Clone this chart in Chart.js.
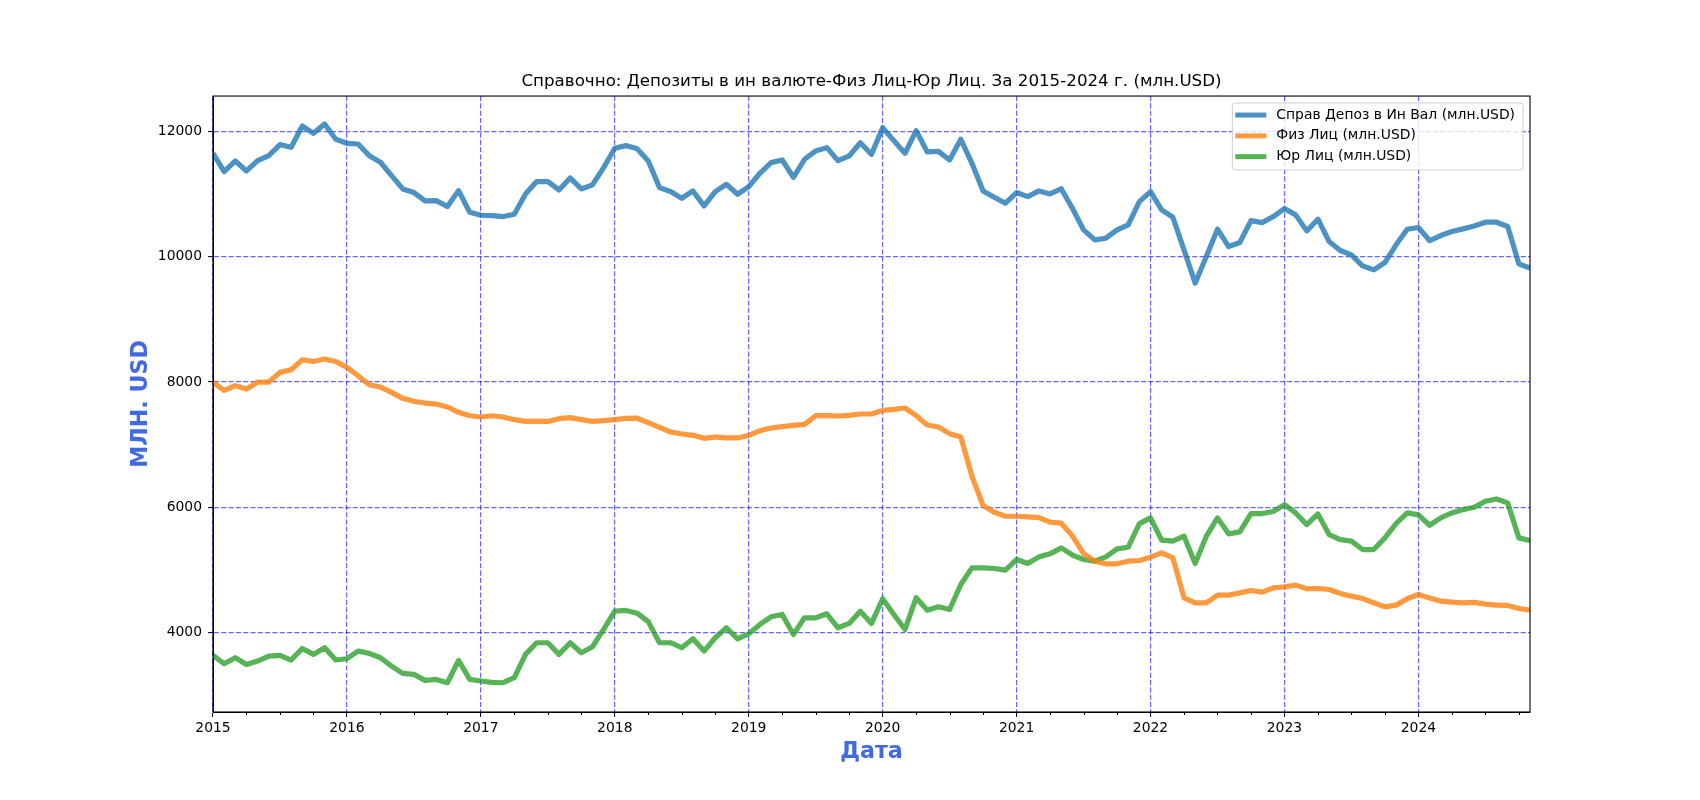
<!DOCTYPE html>
<html>
<head>
<meta charset="utf-8">
<script src="https://cdn.jsdelivr.net/npm/chart.js@4.4.1/dist/chart.umd.min.js"></script>
<style>
  html, body { margin: 0; padding: 0; background: #fff; }
  #wrap { width: 1700px; height: 800px; }
</style>
</head>
<body>
<div id="wrap"><canvas id="myChart" width="1700" height="800"></canvas></div>
<script>
// months 2015-01 .. 2024-11
var months = [];
for (var yr = 2015; yr <= 2024; yr++) {
  for (var mo = 1; mo <= 12; mo++) {
    if (yr == 2024 && mo > 11) break;
    months.push(yr + '-' + (mo < 10 ? '0' + mo : mo));
  }
}

var depozTotal = [
  11650, 11357, 11527, 11368, 11533, 11612, 11788, 11745, 12085, 11968, 12117, 11873,
  11809, 11798, 11612, 11506, 11294, 11081, 11023, 10890, 10895, 10800, 11054, 10709,
  10661, 10656, 10640, 10677, 11001, 11198, 11198, 11065, 11256, 11081, 11145, 11421,
  11729, 11772, 11722, 11525, 11102, 11039, 10932, 11049, 10810, 11039, 11155, 10996,
  11118, 11331, 11501, 11543, 11267, 11554, 11687, 11740, 11533, 11607, 11819, 11633,
  12058, 11851, 11649, 12011, 11671, 11681, 11543, 11873, 11490, 11049, 10948, 10853,
  11023, 10959, 11049, 11001, 11084, 10773, 10428, 10268, 10295, 10428, 10507, 10879,
  11039, 10746, 10629, 10109, 9578, 10003, 10438, 10162, 10226, 10576, 10544, 10640,
  10768, 10667, 10412, 10598, 10242, 10098, 10029, 9854, 9790, 9907, 10189, 10438,
  10465, 10258, 10337, 10401, 10444, 10491, 10550, 10550, 10481, 9886, 9817
];

var fizLic = [
  7995, 7867, 7942, 7888, 8000, 8000, 8154, 8197, 8356, 8329, 8367, 8329,
  8234, 8101, 7958, 7920, 7835, 7740, 7692, 7665, 7649, 7602, 7517, 7463,
  7442, 7463, 7442, 7400, 7373, 7378, 7373, 7416, 7432, 7400, 7373, 7384,
  7400, 7421, 7423, 7352, 7278, 7203, 7171, 7150, 7102, 7124, 7108, 7108,
  7150, 7224, 7267, 7288, 7309, 7325, 7463, 7463, 7458, 7469, 7490, 7490,
  7548, 7564, 7586, 7463, 7315, 7283, 7177, 7124, 6497, 6029, 5923, 5859,
  5859, 5849, 5838, 5764, 5748, 5546, 5264, 5142, 5100, 5100, 5142, 5153,
  5206, 5275, 5195, 4558, 4478, 4478, 4600, 4600, 4637, 4674, 4648, 4717,
  4733, 4760, 4701, 4706, 4690, 4627, 4584, 4547, 4478, 4414, 4441, 4542,
  4611, 4553, 4505, 4489, 4478, 4484, 4457, 4441, 4436, 4388, 4361
];

var yurLic = [
  3639, 3506, 3602, 3495, 3549, 3628, 3639, 3565, 3750, 3655, 3761, 3565,
  3586, 3708, 3671, 3602, 3469, 3352, 3336, 3240, 3256, 3203, 3559, 3256,
  3230, 3208, 3203, 3283, 3655, 3841, 3841, 3655, 3841, 3682, 3777, 4053,
  4345, 4356, 4313, 4178, 3841, 3841, 3761, 3904, 3708, 3920, 4080, 3904,
  3984, 4133, 4255, 4292, 3973, 4239, 4239, 4303, 4080, 4149, 4345, 4149,
  4542, 4292, 4053, 4558, 4361, 4414, 4372, 4770, 5036, 5036, 5025, 4999,
  5169, 5105, 5211, 5259, 5355, 5240, 5169, 5142, 5211, 5339, 5365, 5742,
  5833, 5477, 5461, 5541, 5105, 5541, 5833, 5578, 5610, 5902, 5902, 5934,
  6045, 5912, 5726, 5896, 5567, 5487, 5461, 5328, 5328, 5514, 5742, 5912,
  5880, 5716, 5833, 5912, 5965, 6003, 6098, 6135, 6072, 5514, 5471
];

var seriesNames = ['Справ Депоз в Ин Вал (млн.USD)', 'Физ Лиц (млн.USD)', 'Юр Лиц (млн.USD)'];
var yTicks = [4000, 6000, 8000, 10000, 12000];

var gridBlue = 'rgba(0,0,255,0.6)';
var labelBlue = '#4169E1';

function isJan(i) { return months[i] && months[i].slice(5) == '01'; }

// frame, minor ticks and legend like the matplotlib original
var extras = {
  id: 'extras',
  afterDatasetsDraw: function(chart) {
    var ctx = chart.ctx, ca = chart.chartArea, xs = chart.scales.x;
    ctx.save();
    ctx.strokeStyle = '#000';
    ctx.lineWidth = 1;
    // minor ticks every quarter
    ctx.beginPath();
    for (var i = 0; i < months.length; i++) {
      if (i % 3 == 0 && !isJan(i)) {
        var px = Math.round(xs.getPixelForValue(i)) + 0.5;
        ctx.moveTo(px, ca.bottom);
        ctx.lineTo(px, ca.bottom + 3);
      }
    }
    ctx.stroke();
    ctx.lineWidth = 1.1;
    ctx.strokeRect(ca.left, ca.top, ca.right - ca.left, ca.bottom - ca.top);
    ctx.restore();
  },
  afterDraw: function(chart) {
    var ctx = chart.ctx, ca = chart.chartArea;
    ctx.save();
    ctx.font = '13.9px "DejaVu Sans"';
    var textW = 0;
    seriesNames.forEach(function(s) { textW = Math.max(textW, ctx.measureText(s).width); });
    var right = ca.right - 7, top = ca.top + 7;
    var w = 44 + textW + 8, h = 67;
    var left = right - w;
    ctx.beginPath();
    if (ctx.roundRect) ctx.roundRect(left, top, w, h, 3); else ctx.rect(left, top, w, h);
    ctx.fillStyle = 'rgba(255,255,255,0.8)';
    ctx.fill();
    ctx.strokeStyle = '#cccccc';
    ctx.lineWidth = 1;
    ctx.stroke();
    chart.data.datasets.forEach(function(ds, i) {
      var yy = top + 12 + i * 20.8;
      ctx.beginPath();
      ctx.strokeStyle = ds.borderColor;
      ctx.lineWidth = 5;
      ctx.moveTo(left + 3, yy);
      ctx.lineTo(left + 34, yy);
      ctx.stroke();
      ctx.fillStyle = '#000';
      ctx.textBaseline = 'middle';
      ctx.textAlign = 'left';
      ctx.fillText(ds.label, left + 44, yy);
    });
    ctx.restore();
  }
};

Chart.defaults.font.family = '"DejaVu Sans", sans-serif';
Chart.defaults.color = '#000';

var lineStyle = { pointRadius: 0, tension: 0, borderWidth: 5.2, borderJoinStyle: 'round', fill: false, clip: 0 };

var chartdata = {
  labels: months,
  datasets: [
    Object.assign({ label: seriesNames[0], data: depozTotal, borderColor: 'rgba(31,119,180,0.8)' }, lineStyle),
    Object.assign({ label: seriesNames[1], data: fizLic, borderColor: 'rgba(255,127,14,0.8)' }, lineStyle),
    Object.assign({ label: seriesNames[2], data: yurLic, borderColor: 'rgba(44,160,44,0.8)' }, lineStyle)
  ]
};

var ctx = document.getElementById('myChart');
var lineGraph = new Chart(ctx, {
  type: 'line',
  data: chartdata,
  plugins: [extras],
  options: {
    responsive: false,
    animation: false,
    devicePixelRatio: 1,
    layout: { padding: { left: 0, right: 170, top: 0, bottom: 0 } },
    plugins: {
      legend: { display: false },
      tooltip: { enabled: false },
      title: {
        display: true,
        fullSize: false,
        text: 'Справочно: Депозиты в ин валюте-Физ Лиц-Юр Лиц. За 2015-2024 г. (млн.USD)',
        color: '#000',
        font: { size: 16.7, weight: 'normal' },
        padding: { top: 72, bottom: 4 }
      }
    },
    scales: {
      x: {
        type: 'category',
        offset: false,
        afterFit: function(scale) { scale.height = 88; },
        grid: {
          offset: false,
          lineWidth: 1.2,
          tickLength: 5,
          color: function(c) { return isJan(c.tick ? c.tick.value : c.index) ? gridBlue : 'transparent'; },
          tickColor: function(c) { return isJan(c.tick ? c.tick.value : c.index) ? '#000' : 'transparent'; },
          tickWidth: 1
        },
        border: { display: true, color: '#000', width: 1, dash: [5.1, 2.2] },
        ticks: {
          autoSkip: false,
          maxRotation: 0,
          minRotation: 0,
          padding: 3.5,
          font: { size: 13.9 },
          callback: function(val, i) { return isJan(val) ? months[val].slice(0, 4) : ''; }
        },
        title: {
          display: true,
          text: 'Дата',
          color: labelBlue,
          font: { size: 22.2, weight: 'bold' },
          padding: { top: 0, bottom: 34 }
        }
      },
      y: {
        min: 2736,
        max: 12563,
        afterFit: function(scale) { scale.width = 213; },
        afterBuildTicks: function(scale) {
          scale.ticks = yTicks.map(function(v) { return { value: v }; });
        },
        grid: { color: gridBlue, lineWidth: 1.2, tickLength: 5, tickColor: '#000', tickWidth: 1 },
        border: { display: true, color: '#000', width: 1, dash: [5.1, 2.2] },
        ticks: {
          padding: 6,
          font: { size: 13.9 },
          callback: function(v) { return String(v); }
        },
        title: {
          display: true,
          text: 'МЛН. USD',
          color: labelBlue,
          font: { size: 22.2, weight: 'bold' },
          padding: { top: 128.3, bottom: 0 }
        }
      }
    }
  }
});
</script>
</body>
</html>
